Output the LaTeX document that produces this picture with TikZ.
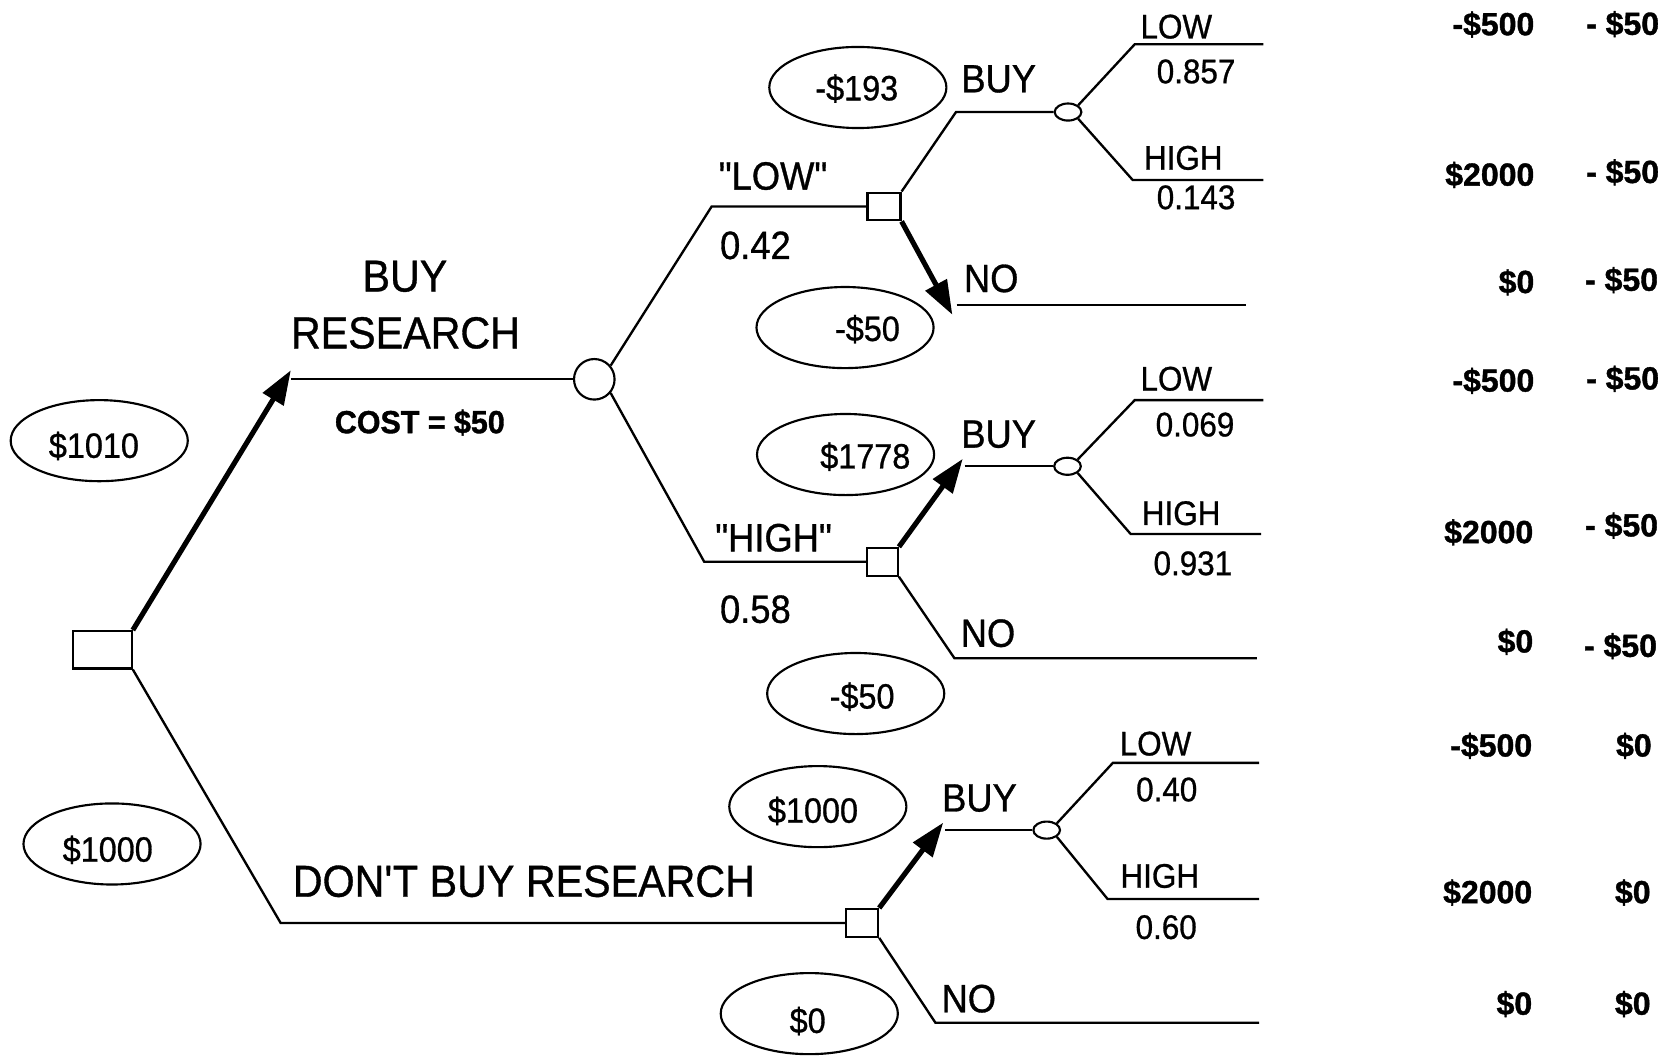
\documentclass[tikz,border=0pt]{standalone}
\usepackage{fontspec}
\setmainfont{Liberation Sans}
\newfontfamily\narrowfont[FakeStretch=0.92,FakeBold=0.8]{Liberation Sans}
\newfontfamily\payfont[FakeBold=1.2]{Liberation Sans Bold}
\newfontfamily\costfont[FakeStretch=0.95,FakeBold=1.2]{Liberation Sans Bold}
\usetikzlibrary{arrows.meta,shapes.geometric}
\begin{document}
\begin{tikzpicture}[x=0.5pt,y=-0.5pt,line width=1pt,
  dbox/.style={draw,rectangle,minimum width=15pt,minimum height=13pt,inner sep=0pt},
  cbig/.style={draw,circle,minimum size=19pt,inner sep=0pt},
  csmall/.style={draw,ellipse,minimum width=12.5pt,minimum height=8pt,inner sep=0pt},
  valell/.style={draw,ellipse,minimum width=83pt,minimum height=38pt,inner sep=0pt},
  lblbig/.style={font=\narrowfont\fontsize{21}{25}\selectfont,inner sep=0pt},
  lblmid/.style={font=\narrowfont\fontsize{18.5}{22}\selectfont,inner sep=0pt},
  lblsmall/.style={font=\narrowfont\fontsize{16}{19}\selectfont,inner sep=0pt},
  valtxt/.style={font=\narrowfont\fontsize{16.5}{20}\selectfont,inner sep=0pt},
  pay/.style={font=\payfont\fontsize{15}{18}\selectfont,inner sep=0pt,anchor=east},
  costlbl/.style={font=\costfont\fontsize{15}{17}\selectfont,inner sep=0pt},
  plain/.style={line width=1.1pt},
  best/.style={line width=2.4pt,-{Triangle[length=16pt,width=11pt]}},
]
\useasboundingbox (0,0) rectangle (1568,990);

% decision and chance nodes
\node[dbox,minimum width=27.5pt,minimum height=17.5pt] (R) at (96,609) {};
\node[cbig] (C1) at (557,355.5) {};
\node[dbox,minimum width=15.5pt] (D1) at (828.5,193.5) {};
\node[dbox,minimum width=14.5pt] (D2) at (827,526.5) {};
\node[dbox] (D3) at (808,865) {};
\node[csmall] (c1) at (1001,105) {};
\node[csmall] (c2) at (1000.5,437) {};
\node[csmall] (c3) at (981,778) {};

% coordinates
\coordinate (brtip) at (272.6,347);
\coordinate (brs) at (272.6,355.5);
\coordinate (k1) at (667,193.5);
\coordinate (k2) at (660,526.5);
\coordinate (k3) at (263,865);
\coordinate (u1) at (896,105);
\coordinate (a1) at (892.6,295);
\coordinate (n1s) at (896.5,286);
\coordinate (n1e) at (1168,286);
\coordinate (l1b) at (1063.5,41.5);
\coordinate (l1e) at (1184,41.5);
\coordinate (h1b) at (1061.6,168.7);
\coordinate (h1e) at (1184,168.7);
\coordinate (a2) at (902.3,430);
\coordinate (b2s) at (904,437);
\coordinate (l2b) at (1063.5,375);
\coordinate (l2e) at (1184,375);
\coordinate (h2b) at (1059.7,500.5);
\coordinate (h2e) at (1182,500.5);
\coordinate (n2b) at (894.6,617);
\coordinate (n2e) at (1178,617);
\coordinate (a3) at (884,771);
\coordinate (b3s) at (885.7,778);
\coordinate (l3b) at (1043,715);
\coordinate (l3e) at (1180,715);
\coordinate (h3b) at (1038,842.5);
\coordinate (h3e) at (1180,842.5);
\coordinate (n3b) at (876.7,958.5);
\coordinate (n3e) at (1180,958.5);

% connectors
\draw[best] (R.north east) -- (brtip);
\draw[plain] (brs) -- (C1.west);
\draw[plain] (R.south east) -- (k3) -- (D3.west);
\draw[plain] (C1.40) -- (k1) -- (D1.west);
\draw[plain] (C1.-40) -- (k2) -- (D2.west);

\draw[plain] (D1.north east) -- (u1) -- (c1.west);
\draw[plain] (c1.north east) -- (l1b) -- (l1e);
\draw[plain] (c1.south east) -- (h1b) -- (h1e);
\draw[best] (D1.south east) -- (a1);
\draw[plain] (n1s) -- (n1e);

\draw[best] (D2.north east) -- (a2);
\draw[plain] (b2s) -- (c2.west);
\draw[plain] (c2.north east) -- (l2b) -- (l2e);
\draw[plain] (c2.south east) -- (h2b) -- (h2e);
\draw[plain] (D2.south east) -- (n2b) -- (n2e);

\draw[best] (D3.north east) -- (a3);
\draw[plain] (b3s) -- (c3.west);
\draw[plain] (c3.north east) -- (l3b) -- (l3e);
\draw[plain] (c3.south east) -- (h3b) -- (h3e);
\draw[plain] (D3.south east) -- (n3b) -- (n3e);

% value ellipses
\node[valell] (e0) at (93,413) {};
\node[valtxt] (t0) at (88,418) {\$1010};
\node[valell] (e1) at (105,791) {};
\node[valtxt] (t1) at (101,796.5) {\$1000};
\node[valell] (e2) at (804,82) {};
\node[valtxt] (t2) at (803,83) {-\$193};
\node[valell] (e3) at (792,307) {};
\node[valtxt] (t3) at (813,308.5) {-\$50};
\node[valell] (e4) at (792.5,426) {};
\node[valtxt] (t4) at (811,428) {\$1778};
\node[valell] (e5) at (802,650) {};
\node[valtxt] (t5) at (808,653) {-\$50};
\node[valell] (e6) at (766.5,756) {};
\node[valtxt] (t6) at (762,760) {\$1000};
\node[valell] (e7) at (758.5,950) {};
\node[valtxt] (t7) at (757,957) {\$0};

% branch labels
\node[lblbig] (lb1) at (379.5,259) {BUY};
\node[lblbig] (lb2) at (380,312) {RESEARCH};
\node[costlbl] (lcost) at (393.5,396) {COST = \$50};
\node[lblbig] (lb3) at (491,826) {DON\textquotesingle T BUY RESEARCH};
\node[lblmid] (lq1) at (724.5,165) {"LOW"};
\node[lblmid] (lp1) at (708,230) {0.42};
\node[lblmid] (lq2) at (725,504) {"HIGH"};
\node[lblmid] (lp2) at (708,571) {0.58};
\node[lblmid] (lbuy1) at (936,74) {BUY};
\node[lblmid] (lno1) at (929,261) {NO};
\node[lblmid] (lbuy2) at (936,407) {BUY};
\node[lblmid] (lno2) at (926,593.5) {NO};
\node[lblmid] (lbuy3) at (918,748) {BUY};
\node[lblmid] (lno3) at (908,936) {NO};

\node[lblsmall] (s1) at (1102.5,25) {LOW};
\node[lblsmall] (s2) at (1121,67) {0.857};
\node[lblsmall] (s3) at (1109,148) {HIGH};
\node[lblsmall] (s4) at (1121,185) {0.143};
\node[lblsmall] (s5) at (1102.5,355) {LOW};
\node[lblsmall] (s6) at (1120,398) {0.069};
\node[lblsmall] (s7) at (1107,481) {HIGH};
\node[lblsmall] (s8) at (1118,528) {0.931};
\node[lblsmall] (s9) at (1083,697) {LOW};
\node[lblsmall] (s10) at (1093.5,740) {0.40};
\node[lblsmall] (s11) at (1087,821) {HIGH};
\node[lblsmall] (s12) at (1093,869) {0.60};

% payoffs
\node[pay] (p1) at (1439,23) {-\$500};
\node[pay] (p2) at (1439,164) {\$2000};
\node[pay] (p3) at (1439,264.6) {\$0};
\node[pay] (p4) at (1439,357) {-\$500};
\node[pay] (p5) at (1438,499) {\$2000};
\node[pay] (p6) at (1438,601.5) {\$0};
\node[pay] (p7) at (1437,699) {-\$500};
\node[pay] (p8) at (1437,836.5) {\$2000};
\node[pay] (p9) at (1437,941) {\$0};
\node[pay] (q1) at (1556,22.6) {- \$50};
\node[pay] (q2) at (1556,161.5) {- \$50};
\node[pay] (q3) at (1555,262.5) {- \$50};
\node[pay] (q4) at (1556,355) {- \$50};
\node[pay] (q5) at (1555,492.7) {- \$50};
\node[pay] (q6) at (1554,605.6) {- \$50};
\node[pay] (q7) at (1549,699) {\$0};
\node[pay] (q8) at (1548,836.5) {\$0};
\node[pay] (q9) at (1548,941) {\$0};
\end{tikzpicture}
\end{document}
